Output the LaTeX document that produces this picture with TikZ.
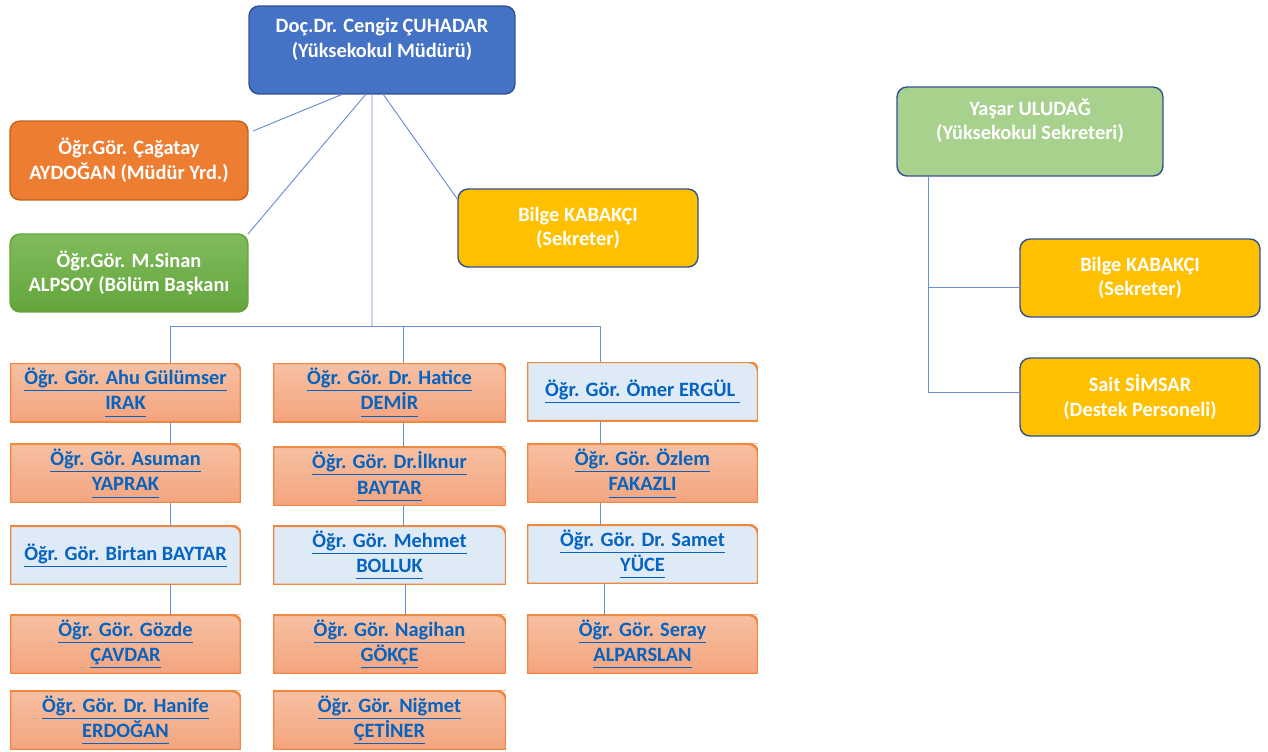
\documentclass[tikz,border=0pt]{standalone}
\usepackage{fontspec}
\setmainfont{Carlito}
\usetikzlibrary{positioning}

\definecolor{headblue}{HTML}{4472C4}
\definecolor{darkblue}{HTML}{2F528F}
\definecolor{deputyorange}{HTML}{ED7D31}
\definecolor{deputyline}{HTML}{C0601F}
\definecolor{chairtop}{HTML}{80BB5D}
\definecolor{chairbottom}{HTML}{63A53B}
\definecolor{staffyellow}{HTML}{FFC000}
\definecolor{secgreen}{HTML}{A9D18E}
\definecolor{lectop}{HTML}{F7C0A2}
\definecolor{lecbottom}{HTML}{F4A47E}
\definecolor{lecline}{HTML}{F0883F}
\definecolor{lightblue}{HTML}{DEEAF6}
\definecolor{linkblue}{HTML}{0563C1}
\definecolor{lineblue}{HTML}{6A8FD2}

\newcommand{\lnk}[1]{\underline{#1\vphantom{g}}}

\tikzset{basic/.style={draw=darkblue,line width=0.8pt,rounded corners=0.2cm,text=white,align=center,inner sep=0pt,outer sep=0pt,font=\fontsize{11.6}{14}\selectfont\bfseries}}
\tikzset{head/.style={basic,fill=headblue,minimum width=5.32cm,minimum height=1.76cm}}
\tikzset{deputy/.style={basic,draw=deputyline,fill=deputyorange,minimum width=4.76cm,minimum height=1.58cm}}
\tikzset{chair/.style={basic,draw=chairbottom,top color=chairtop,bottom color=chairbottom,minimum width=4.76cm,minimum height=1.56cm}}
\tikzset{staff/.style={basic,fill=staffyellow,minimum width=4.8cm,minimum height=1.56cm}}
\tikzset{secretary/.style={basic,fill=secgreen,minimum width=5.32cm,minimum height=1.78cm}}
\tikzset{lecturer/.style={basic,draw=none,rounded corners=0pt,text=linkblue,top color=lectop,bottom color=lecbottom,minimum width=4.62cm,minimum height=1.18cm,font=\fontsize{11.6}{14.4}\selectfont\bfseries,
	path picture={
		\fill[white,sharp corners] (path picture bounding box.north east) -- ([xshift=-0.18cm]path picture bounding box.north east) .. controls ([xshift=-0.08cm]path picture bounding box.north east) and ([yshift=-0.08cm]path picture bounding box.north east) .. ([yshift=-0.18cm]path picture bounding box.north east) -- cycle;
		\draw[lecline,line width=1.4pt,sharp corners] (path picture bounding box.south west) -- (path picture bounding box.north west) -- ([xshift=-0.18cm]path picture bounding box.north east) .. controls ([xshift=-0.08cm]path picture bounding box.north east) and ([yshift=-0.08cm]path picture bounding box.north east) .. ([yshift=-0.18cm]path picture bounding box.north east) -- (path picture bounding box.south east) -- cycle;
	}}}
\tikzset{lecturerb/.style={lecturer,top color=lightblue,bottom color=lightblue}}
\tikzset{conn/.style={draw=lineblue,line width=0.55pt}}

\begin{document}
\begin{tikzpicture}[x=0.02cm,y=-0.02cm]
	\useasboundingbox (0,0) rectangle (1268,751);
	
	\node[head] (director) at (382,50) {Doç.Dr. Cengiz ÇUHADAR\\(Yüksekokul Müdürü)\\\mbox{}};
	\node[deputy] (deputy) at (129,160.5) {Öğr.Gör. Çağatay\\AYDOĞAN (Müdür Yrd.)};
		\path[conn] ([xshift=-0.78cm]director.south) -- ([xshift=0.1cm,yshift=-0.2cm]deputy.north east);
	\node[chair] (chair) at (129,273) {Öğr.Gör. M.Sinan\\ALPSOY (Bölüm Başkanı};
		\path[conn] ([xshift=-0.32cm]director.south) -- (chair.north east);
	\node[staff] (clerk) at (578,228) {Bilge KABAKÇI\\(Sekreter)};
		\path[conn] ([xshift=0.02cm]director.south) -- ([yshift=-0.22cm]clerk.north west);
	
	\node[lecturer] (irak) at (125.5,392.5) {\lnk{Öğr. Gör. Ahu Gülümser}\\\lnk{IRAK}};
	\node[lecturer,below=0.44cm of irak] (yaprak) {\lnk{Öğr. Gör. Asuman}\\\lnk{YAPRAK}};
	\node[lecturerb,below=0.46cm of yaprak] (birtan) {\lnk{Öğr. Gör. Birtan BAYTAR}};
	\node[lecturer,below=0.6cm of birtan] (cavdar) {\lnk{Öğr. Gör. Gözde}\\\lnk{ÇAVDAR}};
	\node[lecturer,below=0.34cm of cavdar] (erdogan) {\lnk{Öğr. Gör. Dr. Hanife}\\\lnk{ERDOĞAN}};
	
	\node[lecturer,minimum width=4.66cm] (demir) at (389.5,392.5) {\lnk{Öğr. Gör. Dr. Hatice}\\\lnk{DEMİR}};
	\node[lecturer,minimum width=4.66cm,below=0.5cm of demir] (ilknur) {\lnk{Öğr. Gör. Dr.İlknur}\\\lnk{BAYTAR}};
	\node[lecturerb,minimum width=4.66cm,below=0.4cm of ilknur] (bolluk) {\lnk{Öğr. Gör. Mehmet}\\\lnk{BOLLUK}};
	\node[lecturer,minimum width=4.66cm,below=0.6cm of bolluk] (gokce) {\lnk{Öğr. Gör. Nagihan}\\\lnk{GÖKÇE}};
	\node[lecturer,minimum width=4.66cm,below=0.34cm of gokce] (cetiner) {\lnk{Öğr. Gör. Niğmet}\\\lnk{ÇETİNER}};
	
	\node[lecturerb] (ergul) at (642.5,391.5) {\lnk{Öğr. Gör. Ömer ERGÜL\ }};
	\node[lecturer,below=0.46cm of ergul] (fakazli) {\lnk{Öğr. Gör. Özlem}\\\lnk{FAKAZLI}};
	\node[lecturerb,below=0.44cm of fakazli] (yuce) {\lnk{Öğr. Gör. Dr. Samet}\\\lnk{YÜCE}};
	\node[lecturer,below=0.62cm of yuce] (alparslan) {\lnk{Öğr. Gör. Seray}\\\lnk{ALPARSLAN}};
	
	\coordinate (bus) at (372,326);
	\coordinate (busl) at (170,326);
	\coordinate (busm) at (403,326);
	\coordinate (busr) at (600,326);
		\path[conn] ([xshift=-0.2cm]director.south) -- (bus);
		\path[conn] (busl) -- (busr);
		\path[conn] (busl) -- (busl |- irak.north);
		\path[conn] (busl |- irak.south) -- (busl |- yaprak.north);
		\path[conn] (busl |- yaprak.south) -- (busl |- birtan.north);
		\path[conn] (busl |- birtan.south) -- (busl |- cavdar.north);
		\path[conn] (busm) -- (busm |- demir.north);
		\path[conn] (busm |- demir.south) -- (busm |- ilknur.north);
		\path[conn] (busm |- ilknur.south) -- (busm |- bolluk.north);
		\path[conn] ([xshift=0.04cm]busm |- bolluk.south) -- ([xshift=0.04cm]busm |- gokce.north);
		\path[conn] (busr) -- (busr |- ergul.north);
		\path[conn] (busr |- ergul.south) -- (busr |- fakazli.north);
		\path[conn] (busr |- fakazli.south) -- (busr |- yuce.north);
		\path[conn] ([xshift=0.08cm]busr |- yuce.south) -- ([xshift=0.08cm]busr |- alparslan.north);
	
	\node[secretary] (secretary) at (1030,131.5) {Yaşar ULUDAĞ\\(Yüksekokul Sekreteri)\\\mbox{}};
	\node[staff] (clerkb) at (1140,278) {Bilge KABAKÇI\\(Sekreter)};
	\node[staff] (support) at (1140,397) {Sait SİMSAR\\(Destek Personeli)};
	\coordinate (trunk) at (928,392);
		\path[conn] (secretary.south -| trunk) -- (trunk);
		\path[conn] ([yshift=-0.18cm]clerkb.west) -| (secretary.south -| trunk);
		\path[conn] ([yshift=0.1cm]support.west) -| (secretary.south -| trunk);
	
\end{tikzpicture}
\end{document}
